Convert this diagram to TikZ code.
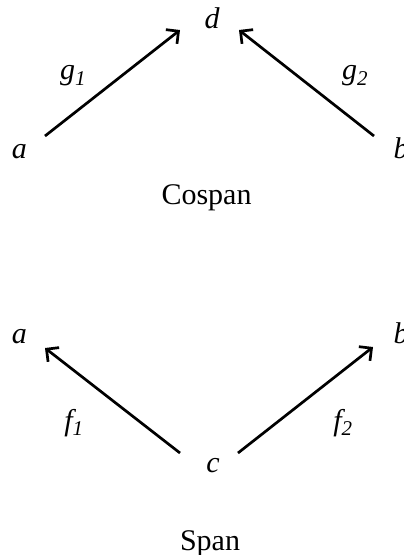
\documentclass[tikz,border=0pt]{standalone}
\usepackage{fontspec}
\setmainfont{Liberation Serif}
\usetikzlibrary{arrows.meta}
\begin{document}
\begin{tikzpicture}[x=1pt,y=-1pt,
  obj/.style={inner sep=0pt, anchor=base, font=\fontsize{30}{36}\selectfont\itshape},
  lbl/.style={inner sep=0pt, anchor=center, font=\fontsize{30}{36}\selectfont\itshape},
  titletext/.style={inner sep=0pt, anchor=base, font=\fontsize{30}{36}\selectfont},
  arr/.style={line width=2.7pt, -{Straight Barb[length=9pt,width=18pt]}}]
\useasboundingbox (0,0) rectangle (404,555);
% Cospan
\node[obj] (d) at (212,28) {d};
\node[obj] (a1) at (19.5,158) {a};
\node[obj] (b1) at (401,158) {b};
\node[lbl] (g1) at (73,76) {g\textsubscript{1}};
\node[lbl] (g2) at (355,76) {g\textsubscript{2}};
\node[titletext] (cospan) at (206.5,204) {Cospan};
\coordinate (a1s) at (45,136);
\coordinate (dl) at (180,30);
\coordinate (b1s) at (374,136);
\coordinate (dr) at (239,30);
\draw[arr] (a1s) -- (dl);
\draw[arr] (b1s) -- (dr);
% Span
\node[obj] (a2) at (19.5,343) {a};
\node[obj] (b2) at (401,343) {b};
\node[obj] (c) at (213,472) {c};
\node[lbl] (f1) at (74,423) {f\textsubscript{1}};
\node[lbl] (f2) at (343,423) {f\textsubscript{2}};
\node[titletext] (span) at (210,550) {Span};
\coordinate (cl) at (180,453);
\coordinate (a2e) at (45,348);
\coordinate (cr) at (238,453);
\coordinate (b2e) at (373,347);
\draw[arr] (cl) -- (a2e);
\draw[arr] (cr) -- (b2e);
\end{tikzpicture}
\end{document}
